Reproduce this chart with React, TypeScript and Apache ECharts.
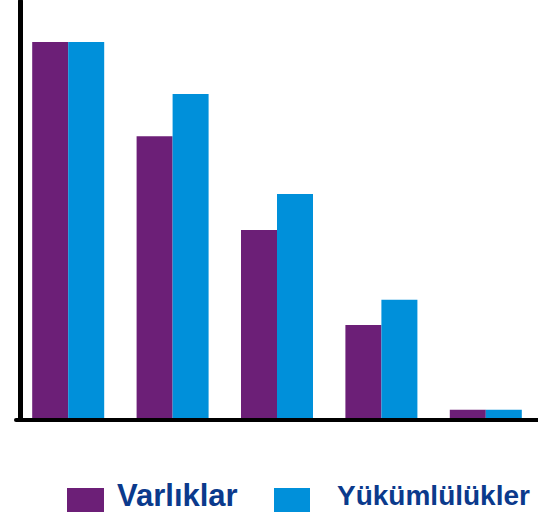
import React, { useEffect, useRef } from "react";
import * as echarts from "echarts";

const categories = ["1", "2", "3", "4", "5"];
const seriesNames = ["Varlıklar", "Yükümlülükler"];
const varliklar = [90.2, 67.7, 45.3, 22.6, 2.3];
const yukumlulukler = [90.2, 77.8, 53.9, 28.6, 2.3];

const PURPLE = "#6C1F77";
const BLUE = "#0090DA";
const NAVY = "#0B3A8C";

const ICON1 = "path://M0,0L0.01,0L0.01,0.01Z M0,10L37,10L37,34L0,34Z";
const ICON2 = "path://M0,0L0.01,0L0.01,0.01Z M0,10L36,10L36,34L0,34Z";

export default function App() {
  const ref = useRef<HTMLDivElement>(null);
  useEffect(() => {
    if (!ref.current) return;
    const chart = echarts.init(ref.current, null, { renderer: "svg" });
    chart.setOption({
      animation: false,
      grid: { left: 16, top: 1, right: -2.85, height: 418.5, containLabel: false },
      xAxis: {
        type: "category",
        data: categories,
        z: 10,
        axisLine: { show: true, lineStyle: { color: "#000", width: 4 } },
        axisTick: { show: false },
        axisLabel: { show: false },
        splitLine: { show: false },
      },
      yAxis: {
        type: "value",
        min: 0,
        max: 100,
        offset: -4.5,
        z: 10,
        axisLine: { show: true, lineStyle: { color: "#000", width: 5 } },
        axisTick: { show: false },
        axisLabel: { show: false },
        splitLine: { show: false },
      },
      legend: [
        {
          data: [{ name: seriesNames[0], icon: ICON1 }],
          left: 67,
          top: 478,
          padding: 0,
          itemWidth: 37,
          itemHeight: 34,
          textStyle: {
            color: NAVY,
            fontSize: 31,
            fontWeight: "bold",
            fontFamily: "Liberation Sans, Arial, sans-serif",
            padding: [0, 0, 0, 8],
          },
        },
        {
          data: [{ name: seriesNames[1], icon: ICON2 }],
          left: 274,
          top: 478,
          padding: 0,
          itemWidth: 36,
          itemHeight: 34,
          textStyle: {
            color: NAVY,
            fontSize: 28,
            fontWeight: "bold",
            fontFamily: "Liberation Sans, Arial, sans-serif",
            padding: [0, 0, 0, 22],
          },
        },
      ],
      series: [
        {
          name: seriesNames[0],
          type: "bar",
          data: varliklar,
          barWidth: 36,
          barGap: "0%",
          itemStyle: { color: PURPLE },
        },
        {
          name: seriesNames[1],
          type: "bar",
          data: yukumlulukler,
          barWidth: 36,
          barGap: "0%",
          itemStyle: { color: BLUE },
        },
      ],
    });
    return () => chart.dispose();
  }, []);
  return (
    <div
      ref={ref}
      style={{ position: "absolute", left: 0, top: 0, width: 538, height: 512 }}
    />
  );
}
